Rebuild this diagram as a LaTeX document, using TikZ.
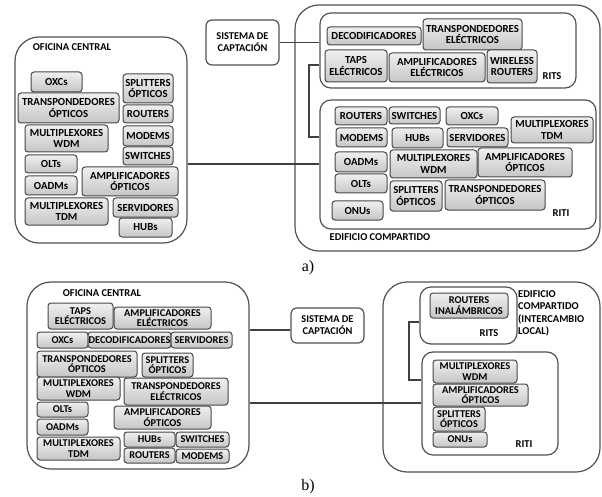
\documentclass[tikz,border=0pt]{standalone}
\usepackage{fontspec}
\setsansfont{Carlito}
\newfontfamily\capfont{Liberation Serif}
\tikzset{
  gbox/.style={draw=black!72, line width=1pt, rounded corners=3pt, top color=gray!12, bottom color=gray!45, align=center, inner sep=0.5pt, font=\sffamily\bfseries\fontsize{10.8}{11.5}\selectfont},
  gboxb/.style={gbox, font=\sffamily\bfseries\fontsize{10.4}{10.4}\selectfont},
  obig/.style={draw=black!68, line width=1.2pt, fill=white, rounded corners=24pt, inner sep=0pt},
  omid/.style={draw=black!68, line width=1.2pt, fill=white, rounded corners=11pt, inner sep=0pt},
  sbox/.style={draw=black!68, line width=1.2pt, fill=white, rounded corners=6pt, align=center, inner sep=0pt, font=\sffamily\bfseries\fontsize{10.4}{12}\selectfont},
  lbl/.style={font=\sffamily\bfseries\fontsize{10.5}{12.5}\selectfont, inner sep=0pt},
  figcap/.style={font=\capfont\fontsize{16}{18}\selectfont, inner sep=0pt},
  conn/.style={draw=black!75, line width=1.1pt}
}
\newcommand\gb[7][gbox]{\node[#1, minimum width={(#5)-(#3)}, minimum height={(#6)-(#4)}] (#2) at ({((#3)+(#5))/2},{((#4)+(#6))/2}) {#7};}
\begin{document}
\begin{tikzpicture}[x=1pt,y=-1pt]
\useasboundingbox (0,0) rectangle (602,497);
% ===================== a) =====================
\gb[obig]{oca}{15}{37}{187}{243}{}
\gb[obig]{eda}{295}{5}{600}{251}{}
\gb[omid]{ritsa}{320}{13}{576}{88}{}
\gb[omid]{ritia}{320}{100}{596}{229}{}
\gb[sbox]{sa}{206}{20}{279}{65}{SISTEMA DE\\CAPTACIÓN}
\node[lbl] (ocal) at (72,47) {OFICINA CENTRAL};
\node[lbl] (edal) at (380,237) {EDIFICIO COMPARTIDO};
\node[lbl] (ritsal) at (552,76) {RITS};
\node[lbl] (ritial) at (561,213) {RITI};
% OC a
\gb{oxca}{31}{72}{82}{92}{OXCs}
\gb{mwdma}{25}{125}{108}{152}{MULTIPLEXORES\\WDM}
\gb{tropa}{18}{93}{119}{123}{TRANSPONDEDORES\\ÓPTICOS}
\gb{olta}{25}{155}{77}{173}{OLTs}
\gb{oadma}{25}{176}{77}{195}{OADMs}
\gb{mtdma}{25}{198}{108}{225}{MULTIPLEXORES\\TDM}
\gb{spla}{123}{74}{173}{103}{SPLITTERS\\ÓPTICOS}
\gb{routa}{123}{105}{173}{123}{ROUTERS}
\gb{modema}{123}{126}{173}{146}{MODEMS}
\gb{swa}{123}{147}{173}{165}{SWITCHES}
\gb{ampoa}{82}{167}{178}{196}{AMPLIFICADORES\\ÓPTICOS}
\gb{serva}{113}{198}{178}{217}{SERVIDORES}
\gb{huba}{119}{218}{172}{237}{HUBs}
% RITS a
\gb{decoa}{327}{27}{421}{45}{DECODIFICADORES}
\gb{trela}{423}{19}{522}{50}{TRANSPONDEDORES\\ELÉCTRICOS}
\gb{tapsa}{325}{50}{387}{82}{TAPS\\ELÉCTRICOS}
\gb{ampea}{389}{53}{485}{82}{AMPLIFICADORES\\ELÉCTRICOS}
\gb{wra}{487}{50}{537}{83}{WIRELESS\\ROUTERS}
% RITI a
\gb{rout2a}{335}{107}{387}{125}{ROUTERS}
\gb{sw2a}{389}{107}{440}{124}{SWITCHES}
\gb{oxc2a}{446}{107}{498}{125}{OXCs}
\gb{mtdm2a}{511}{117}{593}{143}{MULTIPLEXORES\\TDM}
\gb{modem2a}{336}{128}{387}{147}{MODEMS}
\gb{hub2a}{392}{128}{443}{148}{HUBs}
\gb{serv2a}{447}{128}{508}{147}{SERVIDORES}
\gb{oadm2a}{335}{152}{387}{172}{OADMs}
\gb{mwdm2a}{390}{150}{477}{178}{MULTIPLEXORES\\WDM}
\gb{ampo2a}{478}{148}{572}{177}{AMPLIFICADORES\\ÓPTICOS}
\gb{olt2a}{335}{174}{387}{193}{OLTs}
\gb{spl2a}{390}{181}{442}{211}{SPLITTERS\\ÓPTICOS}
\gb{trop2a}{445}{180}{545}{210}{TRANSPONDEDORES\\ÓPTICOS}
\gb{onu2a}{332}{201}{383}{220}{ONUs}
% connectors a
\coordinate (elba) at (309,0);
\draw[conn] (oca.east |- 0,164) -- (ritia.west |- 0,164);
\draw[conn] (sa.east) -- (sa.east -| ritsa.west);
\draw[conn] (ritsa.west |- 0,65) -- (elba |- 0,65) -- (elba |- 0,137) -- (ritia.west |- 0,137);
\node[figcap] (capa) at (308,268) {a)};
% ===================== b) =====================
\gb[obig]{ocb}{27}{282}{249}{469}{}
\gb[obig]{edb}{383}{282}{600}{472}{}
\gb[omid]{ritsb}{420}{287}{517}{344}{}
\gb[omid]{ritib}{422}{352}{558}{455}{}
\gb[sbox]{sb}{291}{308}{364}{343}{SISTEMA DE\\CAPTACIÓN}
\node[lbl] (ocbl) at (102,293) {OFICINA CENTRAL};
\node[lbl, anchor=north west, align=left] (edbl) at (518,290) {EDIFICIO\\COMPARTIDO\\(INTERCAMBIO\\LOCAL)};
\node[lbl] (ritsbl) at (489,333) {RITS};
\node[lbl] (ritibl) at (524,444) {RITI};
% OC b
\gb[gboxb]{tapsb}{48}{303}{113}{329}{TAPS\\ELÉCTRICOS}
\gb[gboxb]{ampeb}{114}{307}{211}{329}{AMPLIFICADORES\\ELÉCTRICOS}
\gb[gboxb]{oxcb}{37}{332}{88}{348}{OXCs}
\gb[gboxb]{decob}{89}{332}{170}{348}{DECODIFICADORES}
\gb[gboxb]{servb}{171}{332}{232}{348}{SERVIDORES}
\gb[gboxb]{tropb}{37}{351}{137}{377}{TRANSPONDEDORES\\ÓPTICOS}
\gb[gboxb]{splb}{142}{353}{193}{377}{SPLITTERS\\ÓPTICOS}
\gb[gboxb]{mwdmb}{37}{377}{120}{400}{MULTIPLEXORES\\WDM}
\gb[gboxb]{trelb}{124}{378}{228}{405}{TRANSPONDEDORES\\ELÉCTRICOS}
\gb[gboxb]{oltb}{37}{402}{88}{417}{OLTs}
\gb[gboxb]{oadmb}{37}{419}{88}{435}{OADMs}
\gb[gboxb]{mtdmb}{37}{437}{120}{460}{MULTIPLEXORES\\TDM}
\gb[gboxb]{ampob}{114}{406}{211}{429}{AMPLIFICADORES\\ÓPTICOS}
\gb[gboxb]{hubb}{124}{432}{175}{447}{HUBs}
\gb[gboxb]{swb}{176}{432}{229}{447}{SWITCHES}
\gb[gboxb]{routb}{124}{448}{175}{463}{ROUTERS}
\gb[gboxb]{modemb}{176}{449}{229}{463}{MODEMS}
% RITS b
\gb[gboxb]{rib}{430}{293}{508}{318}{ROUTERS\\INALÁMBRICOS}
% RITI b
\gb[gboxb]{mwdm2b}{433}{360}{517}{383}{MULTIPLEXORES\\WDM}
\gb[gboxb]{ampo2b}{433}{384}{528}{406}{AMPLIFICADORES\\ÓPTICOS}
\gb[gboxb]{spl2b}{433}{407}{485}{431}{SPLITTERS\\ÓPTICOS}
\gb[gboxb]{onu2b}{433}{432}{487}{447}{ONUs}
% connectors b
\coordinate (elbb) at (409,0);
\draw[conn] (ocb.east |- 0,330) -- (sb.west |- 0,330);
\draw[conn] (ocb.east |- 0,403) -- (ritib.west |- 0,403);
\draw[conn] (ritsb.west |- 0,322) -- (elbb |- 0,322) -- (elbb |- 0,380) -- (ritib.west |- 0,380);
\node[figcap] (capb) at (308,487) {b)};
\end{tikzpicture}
\end{document}
